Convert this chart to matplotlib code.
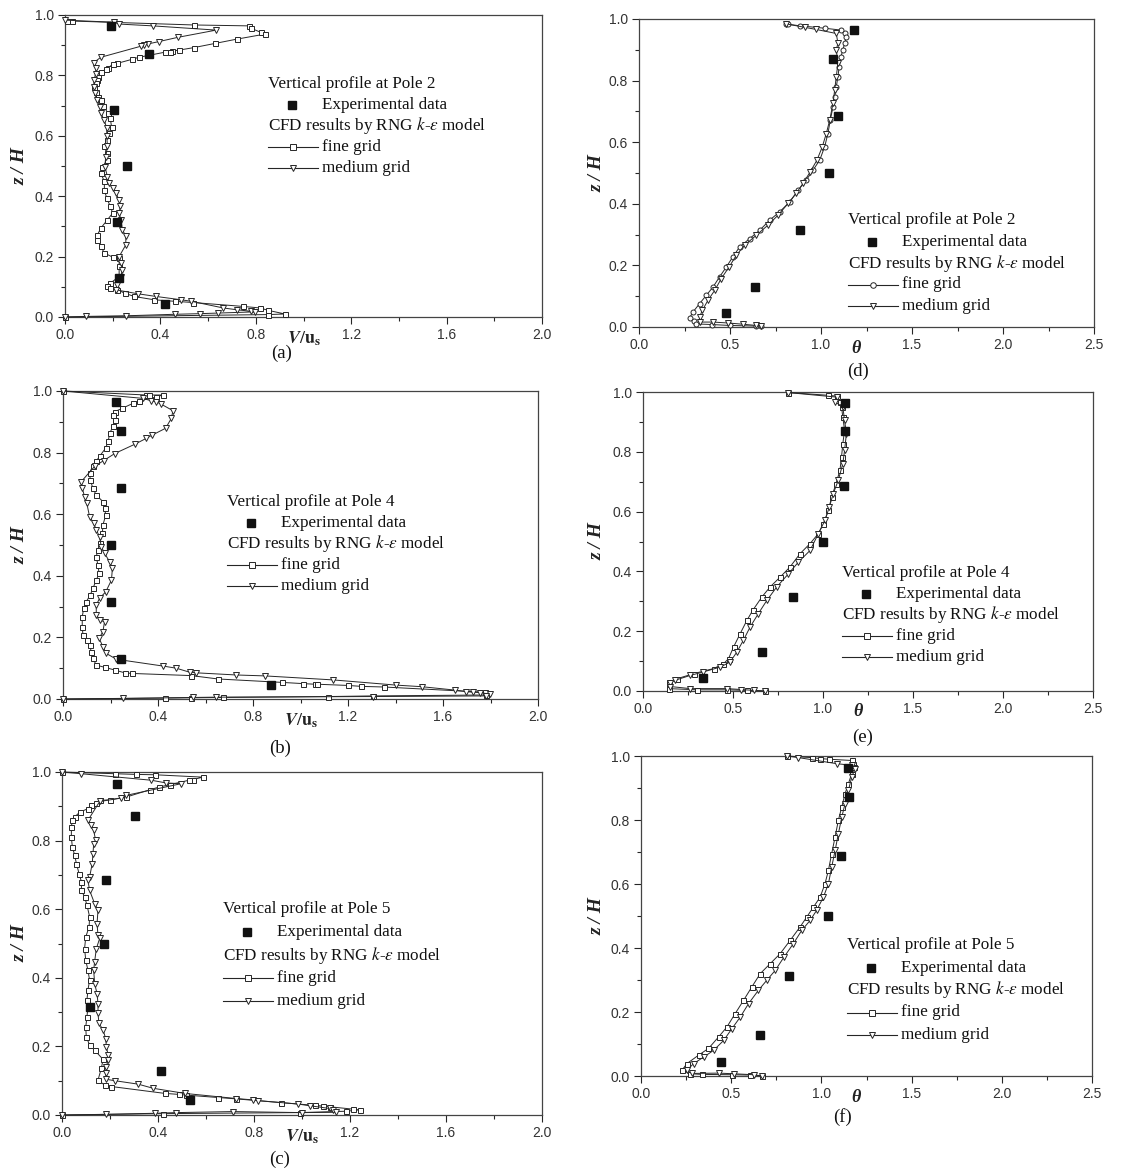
import numpy as np
import matplotlib.pyplot as plt
from matplotlib.ticker import MultipleLocator, FormatStrFormatter

plt.rcParams['mathtext.fontset'] = 'stix'

# heights of the measurement points (same for every pole)
exp_z = [0.964, 0.871, 0.686, 0.5, 0.314, 0.129, 0.044]

# ---- velocity profiles V/us ----
a_fine = np.array([
    (0.01, 0.98), (0.03, 0.98), (0.54, 0.967), (0.77, 0.964), (0.78, 0.956), (0.82, 0.943), (0.84, 0.937),
    (0.72, 0.92), (0.63, 0.906), (0.54, 0.892), (0.48, 0.884), (0.45, 0.881), (0.44, 0.879), (0.42, 0.877),
    (0.31, 0.86), (0.28, 0.853), (0.22, 0.84), (0.20, 0.837), (0.18, 0.824), (0.17, 0.82), (0.15, 0.81),
    (0.14, 0.796), (0.135, 0.785), (0.13, 0.775), (0.12, 0.763), (0.13, 0.745), (0.14, 0.73), (0.15, 0.72),
    (0.16, 0.70), (0.18, 0.675), (0.19, 0.658), (0.195, 0.63), (0.185, 0.61), (0.175, 0.587), (0.165, 0.565),
    (0.175, 0.542), (0.178, 0.52), (0.157, 0.498), (0.15, 0.476), (0.165, 0.449), (0.165, 0.42), (0.175, 0.394),
    (0.19, 0.366), (0.20, 0.344), (0.178, 0.322), (0.15, 0.294), (0.136, 0.272), (0.136, 0.256), (0.15, 0.234),
    (0.165, 0.212), (0.20, 0.198), (0.227, 0.195), (0.227, 0.168), (0.227, 0.134), (0.19, 0.112), (0.175, 0.104),
    (0.19, 0.097), (0.22, 0.09), (0.25, 0.079), (0.29, 0.068), (0.374, 0.057), (0.46, 0.052), (0.536, 0.048),
    (0.747, 0.035), (0.817, 0.030), (0.852, 0.022), (0.922, 0.01), (0.852, 0.008), (0.0, 0.0)])
a_med = np.array([
    (0.0, 0.983), (0.206, 0.976), (0.227, 0.97), (0.368, 0.964), (0.634, 0.95), (0.473, 0.926), (0.394, 0.912),
    (0.347, 0.904), (0.333, 0.90), (0.32, 0.897), (0.15, 0.86), (0.12, 0.842), (0.13, 0.824), (0.128, 0.805),
    (0.122, 0.785), (0.12, 0.763), (0.125, 0.741), (0.136, 0.719), (0.146, 0.697), (0.15, 0.675), (0.164, 0.653),
    (0.175, 0.625), (0.175, 0.598), (0.178, 0.565), (0.171, 0.531), (0.167, 0.498), (0.178, 0.465), (0.185, 0.443),
    (0.20, 0.427), (0.213, 0.41), (0.227, 0.388), (0.232, 0.366), (0.227, 0.344), (0.234, 0.322), (0.241, 0.289),
    (0.255, 0.267), (0.255, 0.239), (0.227, 0.20), (0.234, 0.178), (0.241, 0.157), (0.234, 0.134), (0.22, 0.107),
    (0.213, 0.09), (0.305, 0.077), (0.382, 0.068), (0.487, 0.057), (0.53, 0.052), (0.663, 0.03), (0.72, 0.024),
    (0.78, 0.019), (0.795, 0.017), (0.64, 0.013), (0.564, 0.011), (0.46, 0.009), (0.255, 0.004), (0.087, 0.002),
    (0.0, 0.0)])
exp_a = [0.192, 0.354, 0.206, 0.262, 0.218, 0.227, 0.42]

b_fine = np.array([
    (0.0, 1.0), (0.35, 0.987), (0.36, 0.987), (0.42, 0.987), (0.39, 0.98), (0.32, 0.968), (0.295, 0.96),
    (0.25, 0.944), (0.218, 0.933), (0.21, 0.922), (0.218, 0.906), (0.21, 0.885), (0.197, 0.863), (0.19, 0.837),
    (0.18, 0.815), (0.154, 0.788), (0.14, 0.772), (0.126, 0.758), (0.112, 0.734), (0.115, 0.711), (0.126, 0.684),
    (0.14, 0.662), (0.168, 0.641), (0.175, 0.619), (0.18, 0.597), (0.168, 0.565), (0.166, 0.538), (0.154, 0.505),
    (0.147, 0.484), (0.14, 0.462), (0.147, 0.435), (0.152, 0.408), (0.14, 0.386), (0.126, 0.359), (0.115, 0.338),
    (0.098, 0.316), (0.087, 0.294), (0.081, 0.267), (0.081, 0.235), (0.084, 0.208), (0.10, 0.192), (0.112, 0.175),
    (0.119, 0.154), (0.126, 0.132), (0.14, 0.11), (0.175, 0.103), (0.218, 0.094), (0.26, 0.085), (0.29, 0.083),
    (0.54, 0.076), (0.653, 0.065), (0.92, 0.054), (1.01, 0.05), (1.06, 0.048), (1.07, 0.048), (1.20, 0.044),
    (1.256, 0.041), (1.35, 0.039), (1.775, 0.022), (1.78, 0.013), (1.305, 0.01), (1.116, 0.008), (0.674, 0.005),
    (0.54, 0.004), (0.43, 0.003), (0.0, 0.0)])
b_med = np.array([
    (0.0, 1.0), (0.337, 0.976), (0.372, 0.968), (0.393, 0.965), (0.414, 0.957), (0.463, 0.936), (0.456, 0.911),
    (0.432, 0.879), (0.376, 0.857), (0.35, 0.846), (0.302, 0.827), (0.218, 0.797), (0.171, 0.774), (0.133, 0.755),
    (0.077, 0.706), (0.081, 0.684), (0.091, 0.657), (0.10, 0.636), (0.112, 0.592), (0.129, 0.571), (0.14, 0.549),
    (0.154, 0.527), (0.161, 0.495), (0.175, 0.473), (0.196, 0.446), (0.208, 0.424), (0.204, 0.386), (0.18, 0.348),
    (0.154, 0.327), (0.14, 0.305), (0.14, 0.273), (0.154, 0.256), (0.175, 0.251), (0.168, 0.219), (0.152, 0.197),
    (0.168, 0.17), (0.182, 0.148), (0.225, 0.129), (0.421, 0.107), (0.477, 0.10), (0.533, 0.087), (0.561, 0.085),
    (0.73, 0.078), (0.85, 0.075), (1.137, 0.062), (1.404, 0.045), (1.51, 0.04), (1.649, 0.029), (1.698, 0.024),
    (1.726, 0.022), (1.754, 0.021), (1.796, 0.016), (1.78, 0.01), (1.305, 0.008), (0.646, 0.006), (0.547, 0.005),
    (0.253, 0.002), (0.0, 0.0)])
exp_b = [0.225, 0.246, 0.246, 0.204, 0.204, 0.246, 0.877]

c_fine = np.array([
    (0.0, 1.0), (0.22, 0.995), (0.307, 0.993), (0.386, 0.992), (0.587, 0.985), (0.546, 0.978), (0.529, 0.976),
    (0.449, 0.963), (0.404, 0.956), (0.365, 0.948), (0.268, 0.927), (0.199, 0.919), (0.157, 0.917), (0.143, 0.911),
    (0.122, 0.903), (0.108, 0.893), (0.074, 0.883), (0.053, 0.869), (0.043, 0.859), (0.039, 0.84), (0.039, 0.81),
    (0.043, 0.782), (0.053, 0.757), (0.06, 0.733), (0.071, 0.704), (0.081, 0.68), (0.081, 0.655), (0.094, 0.636),
    (0.104, 0.612), (0.115, 0.578), (0.113, 0.549), (0.099, 0.519), (0.094, 0.485), (0.099, 0.451), (0.108, 0.422),
    (0.115, 0.393), (0.108, 0.364), (0.104, 0.335), (0.108, 0.316), (0.104, 0.286), (0.099, 0.257), (0.101, 0.228),
    (0.115, 0.204), (0.136, 0.189), (0.171, 0.162), (0.164, 0.136), (0.15, 0.102), (0.178, 0.087), (0.206, 0.083),
    (0.428, 0.063), (0.488, 0.06), (0.518, 0.058), (0.65, 0.051), (0.726, 0.047), (0.914, 0.036), (1.053, 0.028),
    (1.088, 0.026), (1.115, 0.024), (1.213, 0.017), (1.24, 0.015), (1.185, 0.011), (0.99, 0.007), (0.421, 0.004),
    (0.0, 0.0)])
c_med = np.array([
    (0.0, 1.0), (0.08, 0.995), (0.372, 0.976), (0.435, 0.968), (0.497, 0.966), (0.268, 0.932), (0.247, 0.924),
    (0.157, 0.914), (0.108, 0.859), (0.122, 0.845), (0.132, 0.83), (0.14, 0.801), (0.132, 0.79), (0.129, 0.762),
    (0.126, 0.733), (0.115, 0.694), (0.108, 0.684), (0.115, 0.655), (0.136, 0.616), (0.15, 0.597), (0.146, 0.558),
    (0.15, 0.524), (0.157, 0.515), (0.143, 0.485), (0.136, 0.447), (0.132, 0.422), (0.136, 0.383), (0.146, 0.354),
    (0.15, 0.325), (0.15, 0.296), (0.154, 0.267), (0.171, 0.248), (0.182, 0.223), (0.185, 0.199), (0.192, 0.175),
    (0.192, 0.16), (0.185, 0.141), (0.182, 0.121), (0.185, 0.104), (0.22, 0.10), (0.317, 0.09), (0.379, 0.078),
    (0.511, 0.063), (0.726, 0.048), (0.796, 0.044), (0.817, 0.042), (0.983, 0.032), (1.032, 0.027), (1.115, 0.019),
    (1.129, 0.015), (1.143, 0.008), (1.0, 0.007), (0.713, 0.01), (0.476, 0.007), (0.386, 0.005), (0.182, 0.002),
    (0.0, 0.0)])
exp_c = [0.229, 0.303, 0.182, 0.174, 0.118, 0.414, 0.532]

# ---- temperature profiles theta ----
d_fine = np.array([
    (0.81, 0.984), (0.818, 0.983), (0.883, 0.978), (1.02, 0.97), (1.11, 0.964), (1.13, 0.953), (1.14, 0.943),
    (1.13, 0.921), (1.12, 0.90), (1.11, 0.878), (1.10, 0.845), (1.093, 0.813), (1.084, 0.78), (1.075, 0.748),
    (1.066, 0.715), (1.051, 0.672), (1.038, 0.628), (1.02, 0.585), (0.993, 0.542), (0.956, 0.509), (0.919, 0.477),
    (0.874, 0.444), (0.828, 0.406), (0.773, 0.374), (0.718, 0.347), (0.663, 0.314), (0.608, 0.287), (0.553, 0.26),
    (0.516, 0.228), (0.48, 0.195), (0.443, 0.163), (0.407, 0.13), (0.37, 0.103), (0.333, 0.076), (0.297, 0.049),
    (0.278, 0.03), (0.30, 0.018), (0.315, 0.01), (0.40, 0.008), (0.50, 0.005), (0.645, 0.003), (0.672, 0.002)])
d_med = np.array([
    (0.81, 0.984), (0.91, 0.973), (0.974, 0.966), (1.084, 0.953), (1.093, 0.921), (1.084, 0.90), (1.093, 0.856),
    (1.084, 0.813), (1.075, 0.769), (1.066, 0.726), (1.048, 0.672), (1.029, 0.628), (1.007, 0.585), (0.978, 0.542),
    (0.941, 0.504), (0.901, 0.466), (0.864, 0.434), (0.819, 0.401), (0.764, 0.363), (0.709, 0.331), (0.645, 0.298),
    (0.581, 0.266), (0.535, 0.233), (0.495, 0.195), (0.452, 0.157), (0.416, 0.119), (0.379, 0.087), (0.348, 0.054),
    (0.333, 0.033), (0.333, 0.016), (0.407, 0.016), (0.49, 0.013), (0.571, 0.009), (0.645, 0.005), (0.672, 0.002)])
exp_d = [1.181, 1.066, 1.093, 1.044, 0.886, 0.636, 0.476]

e_fine = np.array([
    (0.808, 0.998), (1.03, 0.989), (1.075, 0.986), (1.094, 0.967), (1.103, 0.95), (1.11, 0.916), (1.12, 0.872),
    (1.11, 0.827), (1.103, 0.783), (1.094, 0.738), (1.072, 0.693), (1.048, 0.649), (1.03, 0.604), (1.002, 0.559),
    (0.974, 0.526), (0.928, 0.493), (0.872, 0.459), (0.817, 0.415), (0.762, 0.381), (0.706, 0.348), (0.66, 0.314),
    (0.61, 0.27), (0.577, 0.236), (0.54, 0.192), (0.503, 0.147), (0.475, 0.108), (0.447, 0.091), (0.392, 0.075),
    (0.281, 0.058), (0.189, 0.041), (0.142, 0.03), (0.142, 0.022), (0.142, 0.008), (0.30, 0.004), (0.466, 0.004),
    (0.577, 0.002), (0.678, 0.0)])
e_med = np.array([
    (0.808, 0.998), (1.075, 0.983), (1.066, 0.967), (1.11, 0.95), (1.12, 0.905), (1.13, 0.861), (1.12, 0.805),
    (1.11, 0.76), (1.085, 0.705), (1.057, 0.66), (1.035, 0.615), (1.011, 0.571), (0.974, 0.526), (0.928, 0.47),
    (0.863, 0.431), (0.808, 0.392), (0.743, 0.348), (0.688, 0.303), (0.641, 0.259), (0.595, 0.214), (0.558, 0.17),
    (0.521, 0.13), (0.484, 0.097), (0.429, 0.08), (0.336, 0.064), (0.262, 0.052), (0.179, 0.036), (0.152, 0.027),
    (0.152, 0.015), (0.262, 0.008), (0.466, 0.008), (0.545, 0.005), (0.614, 0.002), (0.678, 0.0)])
exp_e = [1.122, 1.122, 1.118, 1.002, 0.832, 0.662, 0.331]

f_fine = np.array([
    (0.808, 1.0), (0.946, 0.995), (0.993, 0.992), (1.04, 0.99), (1.168, 0.986), (1.177, 0.976), (1.18, 0.966),
    (1.168, 0.945), (1.15, 0.914), (1.131, 0.882), (1.113, 0.841), (1.094, 0.799), (1.076, 0.747), (1.057, 0.695),
    (1.039, 0.643), (1.02, 0.601), (0.993, 0.559), (0.956, 0.528), (0.919, 0.497), (0.882, 0.466), (0.827, 0.424),
    (0.771, 0.382), (0.716, 0.351), (0.661, 0.32), (0.614, 0.278), (0.568, 0.236), (0.522, 0.195), (0.476, 0.153),
    (0.43, 0.122), (0.374, 0.086), (0.319, 0.065), (0.255, 0.039), (0.227, 0.018), (0.273, 0.007), (0.338, 0.005),
    (0.504, 0.004), (0.605, 0.003), (0.67, 0.0)])
f_med = np.array([
    (0.808, 1.0), (0.873, 0.995), (1.085, 0.976), (1.168, 0.971), (1.186, 0.96), (1.168, 0.934), (1.15, 0.893),
    (1.131, 0.851), (1.113, 0.809), (1.094, 0.757), (1.076, 0.705), (1.057, 0.653), (1.039, 0.601), (1.011, 0.559),
    (0.974, 0.518), (0.937, 0.486), (0.891, 0.455), (0.845, 0.414), (0.793, 0.372), (0.744, 0.33), (0.697, 0.299),
    (0.651, 0.268), (0.596, 0.226), (0.55, 0.184), (0.504, 0.148), (0.458, 0.111), (0.402, 0.08), (0.347, 0.059),
    (0.292, 0.039), (0.255, 0.018), (0.28, 0.008), (0.43, 0.009), (0.513, 0.007), (0.624, 0.004), (0.67, 0.0)])
exp_f = [1.149, 1.155, 1.107, 1.035, 0.821, 0.657, 0.445]

W, H = 1143, 1171
fig = plt.figure(figsize=(W / 100, H / 100), dpi=100)
fig.patch.set_facecolor('white')

INK = '#262626'
SERIF = 'Liberation Serif'
SANS = 'Liberation Sans'

# (left, top, right, bottom) in pixels, legend anchor (px), line step (px), caption (px)
panels = [
    dict(box=(65, 15, 542, 317), fine=a_fine, med=a_med, exp=exp_a, pole=2, kind='v', fm='s',
         key=(268, 84), step=21, cap='(a)', cpos=(282, 353), ylx=20),
    dict(box=(63, 391, 538, 699), fine=b_fine, med=b_med, exp=exp_b, pole=4, kind='v', fm='s',
         key=(227, 502), step=21, cap='(b)', cpos=(280, 748), ylx=20),
    dict(box=(62, 772, 542, 1115), fine=c_fine, med=c_med, exp=exp_c, pole=5, kind='v', fm='s',
         key=(223, 909), step=23, cap='(c)', cpos=(280, 1159), ylx=20),
    dict(box=(639, 19, 1094, 327), fine=d_fine, med=d_med, exp=exp_d, pole=2, kind='t', fm='o',
         key=(848, 220), step=21.5, cap='(d)', cpos=(858, 371), ylx=597),
    dict(box=(643, 392, 1093, 691), fine=e_fine, med=e_med, exp=exp_e, pole=4, kind='t', fm='s',
         key=(842, 573), step=21, cap='(e)', cpos=(863, 737), ylx=597),
    dict(box=(641, 756, 1092, 1076), fine=f_fine, med=f_med, exp=exp_f, pole=5, kind='t', fm='s',
         key=(847, 945), step=22.5, cap='(f)', cpos=(843, 1117), ylx=597),
]


def fx(px):
    return px / W


def fy(py):
    return 1 - py / H


for p in panels:
    l, t, r, b = p['box']
    ax = fig.add_axes([fx(l), fy(b), fx(r - l), (b - t) / H])
    xmax = 2.0 if p['kind'] == 'v' else 2.5

    ax.plot(p['fine'][:, 0], p['fine'][:, 1], color=INK, lw=0.7, marker=p['fm'], ms=3.6,
            mfc='white', mec=INK, mew=0.7, clip_on=False, zorder=3)
    ax.plot(p['med'][:, 0], p['med'][:, 1], color=INK, lw=0.7, marker='v', ms=4.0,
            mfc='white', mec=INK, mew=0.7, clip_on=False, zorder=3)
    ax.plot(p['exp'], exp_z, ls='none', marker='s', ms=6, color='#111111', zorder=4)

    ax.set_xlim(0, xmax)
    ax.set_ylim(0, 1.0)
    if p['kind'] == 'v':
        ax.xaxis.set_major_locator(MultipleLocator(0.4))
        ax.xaxis.set_minor_locator(MultipleLocator(0.2))
    else:
        ax.xaxis.set_major_locator(MultipleLocator(0.5))
        ax.xaxis.set_minor_locator(MultipleLocator(0.25))
    ax.yaxis.set_major_locator(MultipleLocator(0.2))
    ax.yaxis.set_minor_locator(MultipleLocator(0.1))
    ax.xaxis.set_major_formatter(FormatStrFormatter('%.1f'))
    ax.yaxis.set_major_formatter(FormatStrFormatter('%.1f'))
    ax.tick_params(which='both', direction='out', color=INK, width=0.8, top=False, right=False)
    ax.tick_params(which='major', length=5, labelsize=10, labelcolor='#333333', pad=3)
    ax.tick_params(which='minor', length=3)
    for lab in ax.get_xticklabels() + ax.get_yticklabels():
        lab.set_family(SANS)
    for s in ax.spines.values():
        s.set_color('#444444')
        s.set_linewidth(0.9)

    # axis titles
    if p['kind'] == 'v':
        fig.text(fx((l + r) / 2), fy(b + 22), r'$\mathbfit{V}/\mathbf{u}_{\mathbf{s}}$',
                 ha='center', va='center', fontsize=13, color='#222222')
    else:
        fig.text(fx((l + r) / 2 - 10), fy(b + 21), 'θ', family=SERIF, style='italic',
                 weight='bold', ha='center', va='center', fontsize=13, color='#222222')
    fig.text(fx(p['ylx']), fy((t + b) / 2), 'z / H', family=SERIF, style='italic', weight='bold',
             rotation=90, ha='center', va='center', fontsize=14, color='#222222')
    cx, cy = p['cpos']
    fig.text(fx(cx), fy(cy), p['cap'], family=SERIF, ha='center', va='center', fontsize=13.5,
             color='#111111')

    # key block
    kx, ky = p['key']
    st = p['step']
    tk = dict(family=SERIF, fontsize=12.3, ha='left', va='center', color='#111111')
    fig.text(fx(kx), fy(ky), 'Vertical profile at Pole %d' % p['pole'], **tk)
    fig.lines.append(plt.Line2D([fx(kx + 24)], [fy(ky + st)], transform=fig.transFigure,
                                marker='s', ms=6, color='#111111', ls='none'))
    fig.text(fx(kx + 54), fy(ky + st), 'Experimental data', **tk)
    fig.text(fx(kx), fy(ky + 2 * st), r'CFD results by RNG $k$-$\varepsilon$ model', **tk)
    for i, (mk, name) in enumerate([(p['fm'], 'fine grid'), ('v', 'medium grid')]):
        yy = fy(ky + (3 + i) * st)
        fig.lines.append(plt.Line2D([fx(kx), fx(kx + 50)], [yy, yy], transform=fig.transFigure,
                                    color=INK, lw=0.8))
        fig.lines.append(plt.Line2D([fx(kx + 25)], [yy], transform=fig.transFigure,
                                    marker=mk, ms=4, mfc='white', mec=INK, mew=0.7, ls='none'))
        fig.text(fx(kx + 54), yy, name, **tk)

fig.savefig('out.png', dpi=100, facecolor='white')
